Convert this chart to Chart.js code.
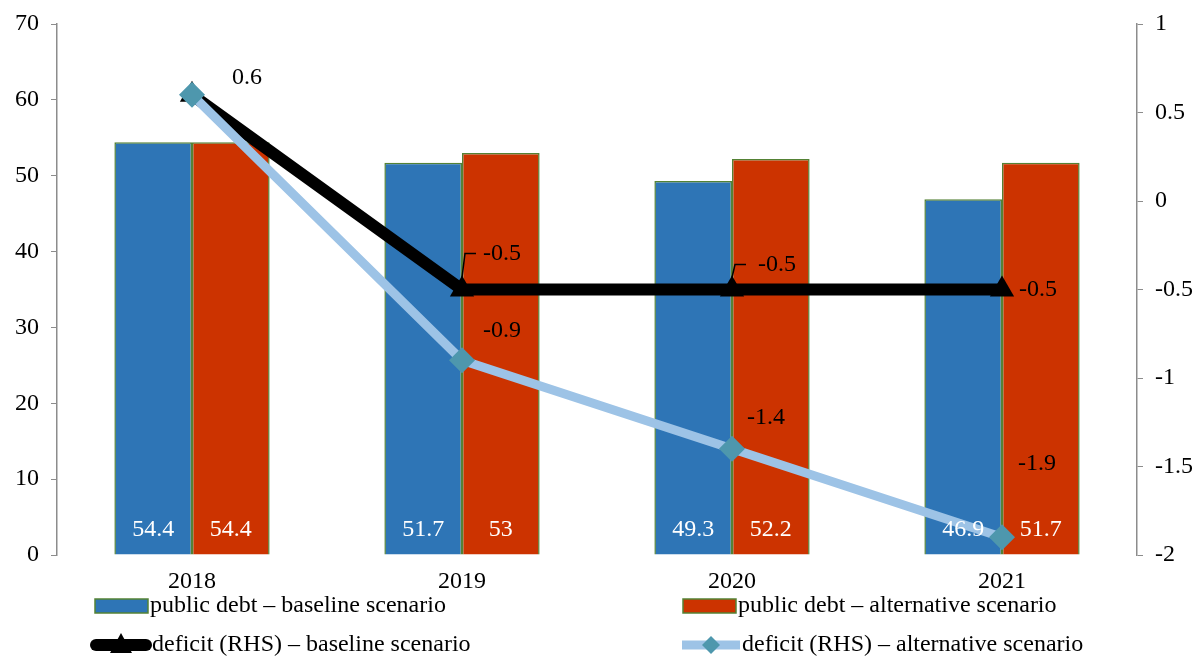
<!DOCTYPE html>
<html>
<head>
<meta charset="utf-8">
<script src="https://cdn.jsdelivr.net/npm/chart.js@4/dist/chart.umd.min.js"></script>
<style>
  html, body { margin: 0; padding: 0; background: #fff; }
  #wrap { width: 1197px; height: 658px; }
</style>
</head>
<body>
<div id="wrap"><canvas id="chart"></canvas></div>
<script>
const years = ["2018", "2019", "2020", "2021"];
const debtBaseline = [54.4, 51.7, 49.3, 46.9];
const debtAlternative = [54.4, 53, 52.2, 51.7];
const deficitBaseline = [0.6, -0.5, -0.5, -0.5];
const deficitAlternative = [0.6, -0.9, -1.4, -1.9];
const leftTicks = [0, 10, 20, 30, 40, 50, 60, 70];
const rightTicks = [-2, -1.5, -1, -0.5, 0, 0.5, 1];

const serif = "'Liberation Serif', 'Times New Roman', serif";
const fontSize = 24;
const blue = "#2E75B6";
const red = "#CC3300";
const barBorder = "#548235";
const lightBlue = "#9DC3E6";
const diamond = "#4E97AD";
const axisGray = "#8c8c8c";

// label placement relative to each point (dx, dy, align)
const baseLabelPos = [
  [55, -17, "center"],
  [40, -36, "center"],
  [45, -25, "center"],
  [17, 0, "left"],
];
const altLabelPos = [
  null,
  [40, -30, "center"],
  [34, -31, "center"],
  [35, -74, "center"],
];

const labelPlugin = {
  id: "labels",
  afterDatasetsDraw(chart) {
    const ctx = chart.ctx;
    ctx.save();
    ctx.font = fontSize + "px " + serif;
    ctx.textBaseline = "middle";

    // white value labels at the bottom of the bars
    [0, 1].forEach((di) => {
      const meta = chart.getDatasetMeta(di);
      meta.data.forEach((bar, i) => {
        ctx.fillStyle = "#fff";
        ctx.textAlign = "center";
        ctx.fillText(String(chart.data.datasets[di].data[i]), bar.x, bar.base - 25);
      });
    });

    ctx.fillStyle = "#000";
    const base = chart.getDatasetMeta(2).data;
    base.forEach((pt, i) => {
      const [dx, dy, align] = baseLabelPos[i];
      ctx.textAlign = align;
      ctx.fillText(String(deficitBaseline[i]), pt.x + dx, pt.y + dy);
      // leader lines for 2019 and 2020
      if (i === 1 || i === 2) {
        ctx.strokeStyle = "#000";
        ctx.lineWidth = 1.5;
        ctx.beginPath();
        ctx.moveTo(pt.x, pt.y - 12);
        ctx.lineTo(pt.x + 3, pt.y + dy);
        ctx.lineTo(pt.x + 14, pt.y + dy);
        ctx.stroke();
      }
    });
    const alt = chart.getDatasetMeta(3).data;
    alt.forEach((pt, i) => {
      if (!altLabelPos[i]) return;
      const [dx, dy, align] = altLabelPos[i];
      ctx.textAlign = align;
      ctx.fillText(String(deficitAlternative[i]), pt.x + dx, pt.y + dy);
    });
    ctx.restore();
  },
  afterDraw(chart) {
    // legend in two columns under the axis
    const ctx = chart.ctx;
    ctx.save();
    ctx.font = fontSize + "px " + serif;
    ctx.textBaseline = "middle";
    ctx.textAlign = "left";
    const cols = [95, 683];
    const row1 = 606, row2 = 645;
    [[blue, "public debt – baseline scenario"], [red, "public debt – alternative scenario"]].forEach(([c, t], k) => {
      const x = cols[k];
      ctx.fillStyle = c;
      ctx.fillRect(x, row1 - 7, 53, 14);
      ctx.strokeStyle = barBorder;
      ctx.lineWidth = 1.5;
      ctx.strokeRect(x, row1 - 7, 53, 14);
      ctx.fillStyle = "#000";
      ctx.fillText(t, x + 55, row1);
    });
    // baseline deficit
    let x = cols[0] - 3;
    ctx.strokeStyle = "#000";
    ctx.lineWidth = 12;
    ctx.lineCap = "round";
    ctx.beginPath();
    ctx.moveTo(x + 4, row2);
    ctx.lineTo(x + 54, row2);
    ctx.stroke();
    ctx.fillStyle = "#000";
    ctx.beginPath();
    ctx.moveTo(x + 29, row2 - 12);
    ctx.lineTo(x + 40, row2 + 8);
    ctx.lineTo(x + 18, row2 + 8);
    ctx.closePath();
    ctx.fill();
    ctx.fillText("deficit (RHS) – baseline scenario", x + 60, row2);
    // alternative deficit
    x = cols[1] - 1;
    ctx.strokeStyle = lightBlue;
    ctx.lineWidth = 9;
    ctx.lineCap = "butt";
    ctx.beginPath();
    ctx.moveTo(x, row2);
    ctx.lineTo(x + 58, row2);
    ctx.stroke();
    ctx.fillStyle = diamond;
    ctx.beginPath();
    ctx.moveTo(x + 29, row2 - 9);
    ctx.lineTo(x + 38, row2);
    ctx.lineTo(x + 29, row2 + 9);
    ctx.lineTo(x + 20, row2);
    ctx.closePath();
    ctx.fill();
    ctx.fillStyle = "#000";
    ctx.fillText("deficit (RHS) – alternative scenario", x + 60, row2);
    ctx.restore();
  },
};

const tickFont = { family: serif, size: fontSize };

// fixed axis widths, and no extra top/bottom padding from the tick labels
const fitY = (w) => (s) => {
  s.width = w;
  s.paddingTop = 0;
  s.paddingBottom = 0;
};

const chart = new Chart(document.getElementById("chart"), {
  data: {
    labels: years,
    datasets: [
      {
        type: "bar",
        label: "public debt – baseline scenario",
        data: debtBaseline,
        backgroundColor: blue,
        borderColor: barBorder,
        borderWidth: 1.5,
        yAxisID: "y",
        order: 2,
        barPercentage: 1,
        categoryPercentage: 0.575,
      },
      {
        type: "bar",
        label: "public debt – alternative scenario",
        data: debtAlternative,
        backgroundColor: red,
        borderColor: barBorder,
        borderWidth: 1.5,
        yAxisID: "y",
        order: 3,
        barPercentage: 1,
        categoryPercentage: 0.575,
      },
      {
        type: "line",
        label: "deficit (RHS) – baseline scenario",
        data: deficitBaseline,
        borderColor: "#000",
        borderWidth: 12,
        pointStyle: "triangle",
        pointRadius: 14,
        pointBackgroundColor: "#000",
        pointBorderWidth: 0,
        yAxisID: "y1",
        order: 1,
        tension: 0,
      },
      {
        type: "line",
        label: "deficit (RHS) – alternative scenario",
        data: deficitAlternative,
        borderColor: lightBlue,
        borderWidth: 9,
        pointStyle: "rectRot",
        pointRadius: 13,
        pointBackgroundColor: diamond,
        pointBorderWidth: 0,
        yAxisID: "y1",
        order: 0,
        tension: 0,
      },
    ],
  },
  options: {
    responsive: true,
    maintainAspectRatio: false,
    animation: false,
    layout: { padding: { top: 24, left: 0, right: 0, bottom: 0 } },
    plugins: {
      legend: { display: false },
      tooltip: { enabled: false },
    },
    scales: {
      x: {
        grid: { display: false },
        border: { display: false },
        ticks: { color: "#000", font: tickFont, padding: 4 },
        afterFit: (s) => { s.height = 103; },
      },
      y: {
        position: "left",
        min: 0,
        max: 70,
        afterBuildTicks: (s) => { s.ticks = leftTicks.map((v) => ({ value: v })); },
        grid: { drawOnChartArea: false, drawTicks: true, tickLength: 6, color: axisGray },
        border: { display: true, color: axisGray, width: 1.5 },
        ticks: { color: "#000", font: tickFont, padding: 12 },
        afterFit: fitY(57),
      },
      y1: {
        position: "right",
        min: -2,
        max: 1,
        afterBuildTicks: (s) => { s.ticks = rightTicks.map((v) => ({ value: v })); },
        grid: { drawOnChartArea: false, drawTicks: true, tickLength: 6, color: axisGray },
        border: { display: true, color: axisGray, width: 1.5 },
        ticks: { color: "#000", font: tickFont, padding: 12, callback: (v) => String(v) },
        afterFit: fitY(60),
      },
    },
  },
  plugins: [labelPlugin],
});
</script>
</body>
</html>
